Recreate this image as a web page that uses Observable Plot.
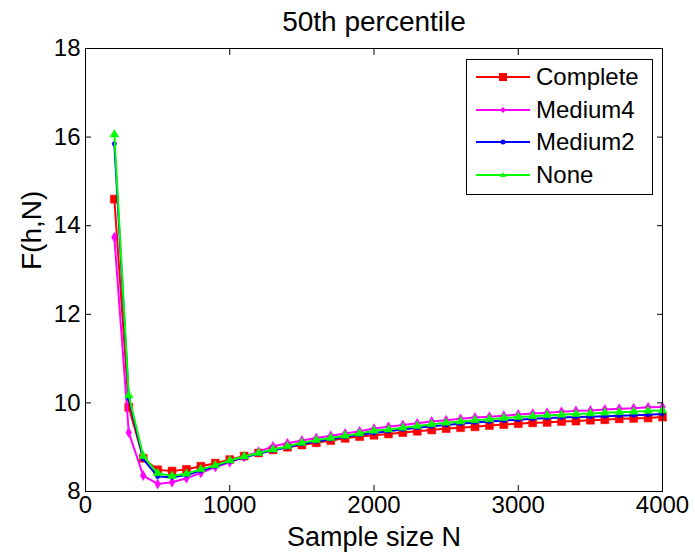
<!DOCTYPE html>
<html><head><meta charset="utf-8">
<script src="https://cdn.jsdelivr.net/npm/d3@7"></script>
<script src="https://cdn.jsdelivr.net/npm/@observablehq/plot@0.6"></script>
<style>
body{margin:0;background:#fff;font-family:"Liberation Sans",Arial,sans-serif;}
#wrap{position:relative;width:695px;height:557px;}
#legend{position:absolute;left:466px;top:59px;width:185px;height:134px;border:1px solid #000;background:#fff;}
.row{position:absolute;left:0;height:30px;display:flex;align-items:center;font-size:24px;color:#000;}
.row svg{margin-left:9px;margin-right:5px;}
</style></head><body>
<div id="wrap"><div id="legend"></div></div>
<script>
const title = "50th percentile";
const xLabel = "Sample size N";
const yLabel = "F(h,N)";
const xTicks = [0, 1000, 2000, 3000, 4000];
const yTicks = [8, 10, 12, 14, 16, 18];
const seriesNames = ["Complete", "Medium4", "Medium2", "None"];
const seriesColors = ["#ff0000", "#ff00ff", "#0000ff", "#00ff00"];
const seriesSymbols = ["square", "diamond", "circle", "triangle"];
const N = [200,300,400,500,600,700,800,900,1000,1100,1200,1300,1400,1500,1600,1700,1800,1900,2000,2100,2200,2300,2400,2500,2600,2700,2800,2900,3000,3100,3200,3300,3400,3500,3600,3700,3800,3900,4000];
const complete = [14.6,9.9,8.75,8.49,8.46,8.50,8.57,8.64,8.72,8.80,8.87,8.94,9.00,9.05,9.10,9.15,9.20,9.24,9.27,9.30,9.33,9.36,9.39,9.42,9.44,9.46,9.49,9.51,9.53,9.55,9.56,9.58,9.59,9.61,9.62,9.64,9.65,9.66,9.68];
const medium4 = [13.74,9.33,8.36,8.17,8.21,8.30,8.42,8.55,8.66,8.78,8.90,9.02,9.09,9.15,9.21,9.26,9.31,9.36,9.42,9.46,9.50,9.54,9.58,9.61,9.64,9.67,9.69,9.71,9.74,9.76,9.78,9.80,9.82,9.83,9.85,9.87,9.88,9.90,9.91];
const medium2 = [15.85,10.10,8.73,8.34,8.32,8.37,8.47,8.57,8.68,8.77,8.85,8.93,9.00,9.07,9.13,9.18,9.23,9.28,9.32,9.36,9.40,9.44,9.47,9.50,9.53,9.56,9.58,9.60,9.62,9.64,9.66,9.67,9.68,9.69,9.70,9.71,9.72,9.73,9.75];
const none = [16.06,10.17,8.80,8.41,8.35,8.40,8.50,8.59,8.70,8.79,8.87,8.95,9.02,9.10,9.16,9.21,9.26,9.31,9.37,9.40,9.44,9.48,9.52,9.55,9.58,9.61,9.63,9.66,9.68,9.70,9.72,9.73,9.75,9.76,9.78,9.79,9.80,9.82,9.83];

const allSeries = [complete, medium4, medium2, none];
const rows = [];
allSeries.forEach((vals, i) => vals.forEach((v, j) => rows.push({n: N[j], v, s: seriesNames[i]})));
const symR = {square: 4.5, diamond: 3, circle: 2.2, triangle: 3.2};

const marks = [];
seriesNames.forEach((name, i) => {
  const d = rows.filter(r => r.s === name);
  marks.push(Plot.line(d, {x: "n", y: "v", stroke: seriesColors[i], strokeWidth: 2}));
  marks.push(Plot.dot(d, {x: "n", y: "v", symbol: () => seriesSymbols[i], r: symR[seriesSymbols[i]], fill: seriesColors[i], stroke: seriesColors[i], strokeWidth: 0.5}));
});

const chart = Plot.plot({
  width: 695, height: 557,
  marginLeft: 85, marginRight: 33, marginTop: 48, marginBottom: 66,
  style: {fontFamily: "'Liberation Sans', Arial, sans-serif", color: "#000", background: "#fff"},
  x: {domain: [0, 4000]},
  y: {domain: [8, 18]},
  marks: [
    ...marks,
    Plot.frame({stroke: "#000", strokeWidth: 1}),
    Plot.axisX({ticks: xTicks, tickSize: -6, tickPadding: 10, fontSize: 24, label: null, tickFormat: d => String(d)}),
    Plot.axisX({ticks: xTicks, anchor: "top", tickSize: -6, label: null, tickFormat: () => ""}),
    Plot.axisY({ticks: yTicks, tickSize: -6, tickPadding: 11, fontSize: 24, label: null, tickFormat: d => String(d)}),
    Plot.axisY({ticks: yTicks, anchor: "right", tickSize: -6, label: null, tickFormat: () => ""}),
    Plot.text([title], {frameAnchor: "top", dy: -37, fontSize: 28, text: d => d}),
    Plot.text([xLabel], {frameAnchor: "bottom", dy: 54, fontSize: 27, text: d => d}),
    Plot.text([yLabel], {frameAnchor: "left", dx: -53, rotate: -90, fontSize: 28, text: d => d})
  ]
});
document.getElementById("wrap").prepend(chart);

const legend = document.getElementById("legend");
seriesNames.forEach((name, i) => {
  const row = document.createElement("div");
  row.className = "row";
  row.style.top = (2 + i * 32.7) + "px";
  const sym = seriesSymbols[i];
  let m = "";
  const c = seriesColors[i];
  if (sym === "square") m = `<rect x="23" y="2" width="8" height="8" fill="${c}"/>`;
  else if (sym === "diamond") m = `<path d="M27,3 L30,6 L27,9 L24,6Z" fill="${c}"/>`;
  else if (sym === "circle") m = `<circle cx="27" cy="6" r="2.5" fill="${c}"/>`;
  else m = `<path d="M27,3 L30,8 L24,8Z" fill="${c}"/>`;
  row.innerHTML = `<svg width="55" height="12"><line x1="0" x2="54" y1="6" y2="6" stroke="${c}" stroke-width="2"/>${m}</svg><span>${name}</span>`;
  legend.appendChild(row);
});
</script>
</body></html>
